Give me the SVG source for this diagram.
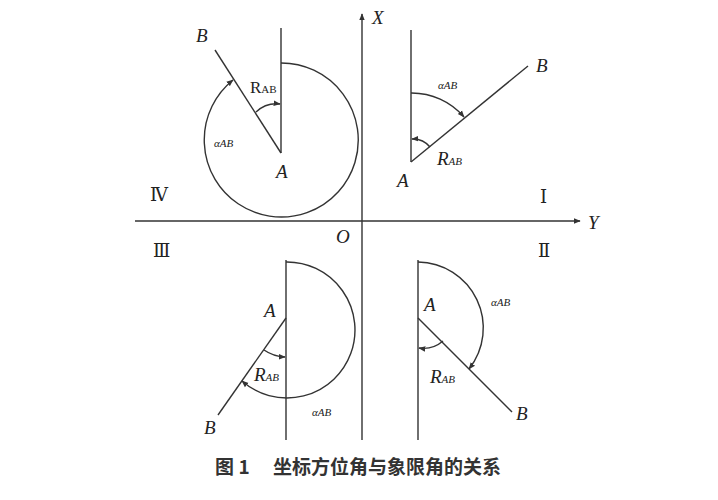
<svg xmlns="http://www.w3.org/2000/svg" width="718" height="500" viewBox="0 0 718 500">
<style>
line,path{stroke:#333;stroke-width:1.4;fill:none}
.t{font-family:"Liberation Serif",serif;font-style:italic;font-size:19px;fill:#222}
.s{font-family:"Liberation Serif",serif;font-style:italic;font-size:11px;fill:#222}
.r{font-family:"Liberation Serif",serif;font-size:17px;fill:#222}
.n{font-family:"DejaVu Serif",serif;font-size:18px;fill:#222}
</style>
<defs><marker id="a" viewBox="0 0 10 10" refX="9" refY="5" markerWidth="5" markerHeight="5" orient="auto"><path d="M0,1L10,5L0,9z" style="fill:#333;stroke:none"/></marker></defs>
<rect width="718" height="500" fill="#fff"/>
<g id="connectors">
<line x1="362" y1="440" x2="362" y2="14" marker-end="url(#a)"/>
<line x1="135" y1="221" x2="580" y2="221" marker-end="url(#a)"/>
</g>
<g id="q4">
<line x1="281" y1="153" x2="281" y2="28"/><line x1="281" y1="153" x2="215" y2="50"/>
<path d="M281,63 A77,77 0 1 1 233,80" marker-end="url(#a)"/>
<path d="M256,112 A30,30 0 0 1 280,104" marker-end="url(#a)"/>
<text class="t" x="196" y="42">B</text><text class="t" x="276" y="178">A</text>
<text class="r" x="250" y="93">R<tspan font-size="11">AB</tspan></text>
<text class="s" x="214" y="147">αAB</text><text class="n" x="150" y="201">Ⅳ</text>
</g>
<g id="q1">
<line x1="411" y1="162" x2="411" y2="30"/><line x1="411" y1="162" x2="528" y2="66"/>
<path d="M411,93 A69,69 0 0 1 464,117" marker-end="url(#a)"/>
<path d="M430,147 A22,22 0 0 0 412,139" marker-end="url(#a)"/>
<text class="t" x="536" y="72">B</text><text class="t" x="397" y="187">A</text>
<text class="s" x="438" y="89">αAB</text>
<text class="t" x="437" y="165">R<tspan font-size="11">AB</tspan></text>
<text class="n" x="540" y="203">Ⅰ</text>
</g>
<g id="q3">
<line x1="286" y1="260" x2="286" y2="440"/><line x1="286" y1="318" x2="218" y2="415"/>
<path d="M286,262 A68,68 0 1 1 242,381" marker-end="url(#a)"/>
<path d="M264,350 A40,40 0 0 0 285,357" marker-end="url(#a)"/>
<text class="t" x="264" y="317">A</text><text class="t" x="204" y="434">B</text>
<text class="t" x="254" y="381">R<tspan font-size="11">AB</tspan></text>
<text class="s" x="312" y="416">αAB</text><text class="n" x="153" y="257">Ⅲ</text>
<text class="t" x="336" y="243">O</text>
</g>
<g id="q2">
<line x1="418" y1="260" x2="418" y2="440"/><line x1="418" y1="318" x2="512" y2="412"/>
<path d="M418,262 A66,66 0 0 1 469,369" marker-end="url(#a)"/>
<path d="M443,341 A30,30 0 0 1 419,348" marker-end="url(#a)"/>
<text class="t" x="424" y="311">A</text><text class="t" x="516" y="420">B</text>
<text class="s" x="491" y="306">αAB</text>
<text class="t" x="430" y="383">R<tspan font-size="11">AB</tspan></text>
<text class="n" x="538" y="257">Ⅱ</text>
</g>
<text class="t" x="372" y="24">X</text><text class="t" x="588" y="229">Y</text>
<text x="358" y="474" text-anchor="middle" font-family="Noto Sans CJK SC,sans-serif" font-weight="bold" font-size="19" fill="#333">图 1　 坐标方位角与象限角的关系</text>
</svg>
